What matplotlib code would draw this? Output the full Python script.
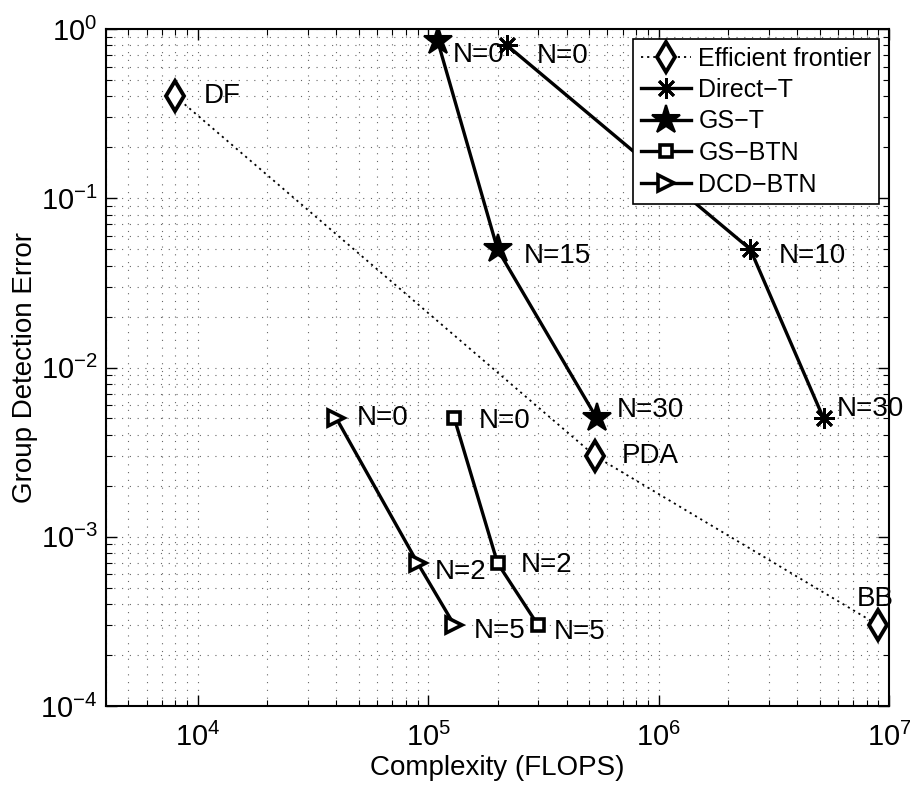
import matplotlib
matplotlib.use("Agg")
import matplotlib.pyplot as plt
import numpy as np

plt.rcParams['font.family'] = ['Liberation Sans', 'DejaVu Sans']

# ---- data ----
ef_x = [8e3, 5.3e5, 9e6]
ef_y = [0.4, 3e-3, 3e-4]
ef_labels = ['DF', 'PDA', 'BB']

direct_x = [2.2e5, 2.5e6, 5.2e6]
direct_y = [0.8, 0.05, 5e-3]
direct_labels = ['N=0', 'N=10', 'N=30']

gst_x = [1.1e5, 2.0e5, 5.4e5]
gst_y = [0.85, 0.05, 5e-3]
gst_labels = ['N=0', 'N=15', 'N=30']

gsbtn_x = [1.3e5, 2.0e5, 3.0e5]
gsbtn_y = [5e-3, 7e-4, 3e-4]
gsbtn_labels = ['N=0', 'N=2', 'N=5']

dcd_x = [4e4, 9e4, 1.3e5]
dcd_y = [5e-3, 7e-4, 3e-4]
dcd_labels = ['N=0', 'N=2', 'N=5']

series_names = ['Efficient frontier', 'Direct\u2212T', 'GS\u2212T', 'GS\u2212BTN', 'DCD\u2212BTN']

# label offsets in pixels (dx, dy) -- layout only
px = 0.72
ef_off = [(28, 0), (27, 0), (-3, 26)]
direct_off = [(30, -11), (28, -7), (13, 9)]
gst_off = [(15, -14), (26, -7), (20, 8)]
gsbtn_off = [(24, -3), (23, -2), (16, -7)]
dcd_off = [(20, 0), (17, -9), (19, -6)]

fig = plt.figure(figsize=(9.10, 7.91), dpi=100)
ax = fig.add_axes([106/910, 85/791, (889-106)/910, (706-29)/791])
ax.set_xscale('log')
ax.set_yscale('log')

lw = 2.4
ax.plot(ef_x, ef_y, linestyle=(0, (1.2, 2.2)), color='black', linewidth=1.3, marker='d',
        markersize=15, markerfacecolor='white', markeredgecolor='black',
        markeredgewidth=2.8, label=series_names[0])
ax.plot(direct_x, direct_y, '-', color='black', linewidth=lw, marker=(8, 2, 0),
        markersize=15, markeredgewidth=2.0, label=series_names[1])
ax.plot(gst_x, gst_y, '-', color='black', linewidth=lw, marker='*',
        markersize=21, markerfacecolor='black', markeredgewidth=1.5, label=series_names[2])
ax.plot(gsbtn_x, gsbtn_y, '-', color='black', linewidth=lw, marker='s',
        markersize=8.5, markerfacecolor='white', markeredgewidth=2.6, label=series_names[3])
ax.plot(dcd_x, dcd_y, '-', color='black', linewidth=lw, marker='>',
        markersize=11, markerfacecolor='white', markeredgewidth=2.6, label=series_names[4])

fs_ann = 20
def annotate(xs, ys, labels, offs, ha='left'):
    for x, y, t, (dx, dy) in zip(xs, ys, labels, offs):
        ax.annotate(t, (x, y), xytext=(dx*px, dy*px), textcoords='offset points',
                    ha=ha, va='center', fontsize=fs_ann)

annotate(ef_x[:2], ef_y[:2], ef_labels[:2], ef_off[:2])
annotate(ef_x[2:], ef_y[2:], ef_labels[2:], ef_off[2:], ha='center')
annotate(direct_x, direct_y, direct_labels, direct_off)
annotate(gst_x, gst_y, gst_labels, gst_off)
annotate(gsbtn_x, gsbtn_y, gsbtn_labels, gsbtn_off)
annotate(dcd_x, dcd_y, dcd_labels, dcd_off)

ax.set_xlim(4e3, 1e7)
ax.set_ylim(1e-4, 1e0)
ax.set_xticks([1e4, 1e5, 1e6, 1e7])
ax.set_yticks([1e-4, 1e-3, 1e-2, 1e-1, 1e0])

ax.grid(True, which='both', linestyle=(0, (1, 6)), color='0.4', linewidth=0.8)
ax.tick_params(which='both', direction='in', top=True, right=True, labelsize=21)
ax.tick_params(which='major', length=8, width=1)
ax.tick_params(which='minor', length=4, width=0.8)
ax.tick_params(axis='x', pad=12)
ax.tick_params(axis='y', pad=6)
for s in ax.spines.values():
    s.set_linewidth(1.5)

ax.set_xlabel('Complexity (FLOPS)', fontsize=20, labelpad=2)
ax.set_ylabel('Group Detection Error', fontsize=20, labelpad=2)

leg = ax.legend(loc='upper right', fontsize=18, frameon=True, fancybox=False,
                edgecolor='black', framealpha=1, borderaxespad=0.4, borderpad=0.3,
                labelspacing=0.3, handlelength=2.0, handletextpad=0.3)
leg.get_frame().set_linewidth(1.2)

fig.savefig('out.png', dpi=100)
